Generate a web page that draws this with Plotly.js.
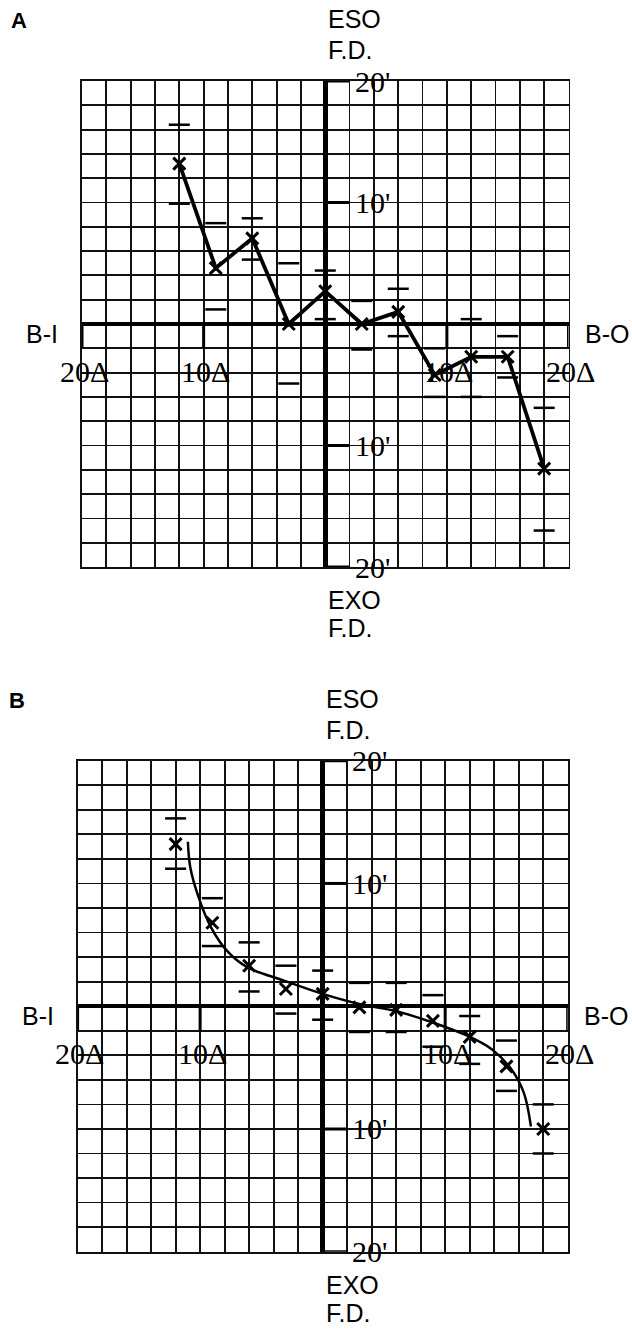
<!DOCTYPE html>
<html><head><meta charset="utf-8">
<script src="https://cdn.plot.ly/plotly-3.0.1.min.js"></script>
<style>html,body{margin:0;padding:0;background:#fff;} #chart{width:632px;height:1330px;}</style>
</head><body><div id="chart"></div>
<script>
// Horizontal prism (Δ): B-I negative, B-O positive
const prismX = [-12, -9, -6, -3, 0, 3, 6, 9, 12, 15, 18];
// Panel A: fixation disparity (minutes of arc), ESO positive
const aMean  = [13.2, 4.6, 7.05, 0.0, 2.7, 0.0, 1.0, -4.2, -2.7, -2.7, -11.9];
const aUpper = [16.4, 8.3, 8.7, 5.0, 4.4, 1.9, 2.9, -2.0, 0.4, -1.0, -6.9];
const aLower = [9.9, 1.2, 5.3, -4.9, 0.4, -2.1, -1.0, -6.0, -6.0, -4.4, -17.0];
// Panel B
const bMean  = [13.2, 6.8, 3.3, 1.4, 1.0, -0.1, -0.3, -1.2, -2.5, -4.9, -10.0];
const bUpper = [15.3, 8.8, 5.2, 3.3, 2.9, 1.9, 1.9, 0.9, -0.8, -2.8, -8.0];
const bLower = [11.2, 4.9, 1.2, -0.6, -1.1, -2.1, -2.1, -3.3, -4.7, -6.9, -12.0];
// Panel B fitted curve
const bCurveX = [-11.0, -10.8, -10.1, -9.1, -7.8, -6.2, -3.2, 0, 2.9, 6.0, 8.9, 11.8, 13.8, 15.3, 16.4, 17.0];
const bCurveY = [13.4, 11.3, 8.8, 6.4, 4.5, 3.2, 2.1, 1.0, 0.2, -0.4, -1.3, -2.4, -3.5, -5.0, -7.0, -9.8];
// Axis scale labels
const yTickVals = [20, 10, -10, -20];
const yTickText = ["20'", "10'", "10'", "20'"];
const xTickVals = [-20, -10, 10, 20];
const xTickText = ["20Δ", "10Δ", "10Δ", "20Δ"];
const CELL = 2;

const SANS = "Liberation Sans, Arial, sans-serif";
const SERIF = "Liberation Serif, Times New Roman, serif";

function yTickSegs() {
  const x = [], y = [];
  yTickVals.forEach(v => { x.push(0, CELL, null); y.push(v, v, null); });
  return {x, y};
}
function xTickSegs() {
  const x = [], y = [];
  xTickVals.forEach(v => { x.push(v, v, null); y.push(0, -CELL, null); });
  return {x, y};
}

function panelTraces(xa, ya, mean, upper, lower, connect) {
  const t = [];
  const ys = yTickSegs(), xs = xTickSegs();
  t.push({x: ys.x, y: ys.y, xaxis: xa, yaxis: ya, mode: 'lines', line: {color: '#000', width: 3}, cliponaxis: false, hoverinfo: 'skip'});
  t.push({x: xs.x, y: xs.y, xaxis: xa, yaxis: ya, mode: 'lines', line: {color: '#000', width: 3}, cliponaxis: false, hoverinfo: 'skip'});
  t.push({x: prismX.concat(prismX), y: upper.concat(lower), xaxis: xa, yaxis: ya, mode: 'markers',
    marker: {symbol: 'line-ew-open', size: 15, color: '#000', line: {color: '#000', width: 2.5}}, cliponaxis: false});
  if (connect) {
    t.push({x: prismX, y: mean, xaxis: xa, yaxis: ya, mode: 'lines+markers', line: {color: '#000', width: 3.8},
      marker: {symbol: 'x-thin-open', size: 12, color: '#000', line: {color: '#000', width: 3}}, cliponaxis: false});
  } else {
    t.push({x: bCurveX, y: bCurveY, xaxis: xa, yaxis: ya, mode: 'lines', line: {color: '#000', width: 2.5, shape: 'spline', smoothing: 1}});
    t.push({x: prismX, y: mean, xaxis: xa, yaxis: ya, mode: 'markers',
      marker: {symbol: 'x-thin-open', size: 12, color: '#000', line: {color: '#000', width: 3}}, cliponaxis: false});
  }
  return t;
}

function panelAnnots(xr, yr, letter, lx, ly) {
  const a = [];
  const base = {xref: xr, yref: yr, showarrow: false, font: {family: SANS, size: 25, color: '#000'}};
  a.push(Object.assign({}, base, {x: 0, y: 20, text: 'ESO', xanchor: 'left', yanchor: 'middle', xshift: 1, yshift: 62}));
  a.push(Object.assign({}, base, {x: 0, y: 20, text: 'F.D.', xanchor: 'left', yanchor: 'middle', xshift: 1, yshift: 31}));
  a.push(Object.assign({}, base, {x: 0, y: -20, text: 'EXO', xanchor: 'left', yanchor: 'middle', xshift: 1, yshift: -33}));
  a.push(Object.assign({}, base, {x: 0, y: -20, text: 'F.D.', xanchor: 'left', yanchor: 'middle', xshift: 1, yshift: -61}));
  a.push(Object.assign({}, base, {x: -20, y: 0, text: 'B-I', xanchor: 'right', yanchor: 'middle', xshift: -22, yshift: -10}));
  a.push(Object.assign({}, base, {x: 20, y: 0, text: 'B-O', xanchor: 'left', yanchor: 'middle', xshift: 14, yshift: -10}));
  yTickVals.forEach((v, i) => a.push({xref: xr, yref: yr, showarrow: false, x: CELL, y: v, text: yTickText[i],
    xanchor: 'left', yanchor: 'middle', xshift: 3, yshift: 0, font: {family: SERIF, size: 30, color: '#000'}}));
  xTickVals.forEach((v, i) => a.push({xref: xr, yref: yr, showarrow: false, x: v, y: 0, text: xTickText[i],
    xanchor: 'center', yanchor: 'middle', xshift: 2, yshift: -47, font: {family: SERIF, size: 30, color: '#000'}}));
  a.push({xref: 'paper', yref: 'paper', showarrow: false, x: lx, y: ly, text: '<b>' + letter + '</b>',
    xanchor: 'center', yanchor: 'middle', font: {family: SANS, size: 22, color: '#000'}});
  return a;
}

function axis(domain, anchor) {
  return {domain: domain, anchor: anchor, range: [-20, 20], dtick: CELL, tick0: 0, showticklabels: false, ticks: '',
    showgrid: true, gridcolor: '#111', gridwidth: 1.8, zeroline: true, zerolinecolor: '#000', zerolinewidth: 4.5,
    showline: true, mirror: true, linecolor: '#111', linewidth: 1.8, fixedrange: true};
}

const W = 632, H = 1330;
const layout = {
  width: W, height: H, margin: {l: 0, r: 0, t: 0, b: 0}, showlegend: false,
  paper_bgcolor: '#fff', plot_bgcolor: '#fff',
  xaxis: axis([82 / W, 568.5 / W], 'y'),
  yaxis: axis([1 - 567 / H, 1 - 81 / H], 'x'),
  xaxis2: axis([77.6 / W, 567.7 / W], 'y2'),
  yaxis2: axis([1 - 1251.7 / H, 1 - 760.7 / H], 'x2'),
  annotations: panelAnnots('x', 'y', 'A', 19 / W, 1 - 20 / H).concat(panelAnnots('x2', 'y2', 'B', 17 / W, 1 - 700 / H))
};

const data = panelTraces('x', 'y', aMean, aUpper, aLower, true)
  .concat(panelTraces('x2', 'y2', bMean, bUpper, bLower, false));

Plotly.newPlot('chart', data, layout, {staticPlot: true, displayModeBar: false});
</script>
</body></html>
